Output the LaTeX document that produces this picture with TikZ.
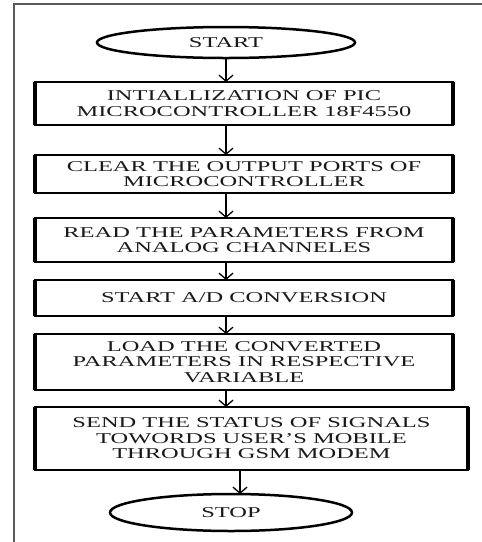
\documentclass[tikz,border=0pt]{standalone}
\usepackage{fontspec}
\newfontfamily\flowfont[FakeStretch=1.63]{Liberation Serif}
\usetikzlibrary{shapes.geometric,arrows.meta}
\begin{document}
\begin{tikzpicture}[x=1pt,y=1pt,
  every node/.style={font=\flowfont\fontsize{15}{15.5}\selectfont, text=black!90, align=center, inner sep=0pt, outer sep=0pt},
  stepbox/.style={draw, line width=2pt, rectangle, minimum width=418pt},
  term/.style={draw, line width=2.5pt, ellipse},
  vedge/.style={line width=4.5pt},
  arr/.style={line width=1.3pt, -{Straight Barb[length=6pt,width=14pt,line width=1.3pt]}},
  frame/.style={draw=black!65, line width=2pt}]
\useasboundingbox (0,0) rectangle (482,-542);
\draw[frame] (13,-4) -- (482,-4);
\draw[frame] (14,-4) -- (14,-542);

\node[term, minimum width=258pt, minimum height=31pt] (start) at (226,-42.5) {START};
\node[stepbox, minimum height=43pt] (b1) at (244,-103.5) {INTIALLIZATION OF PIC\\MICROCONTROLLER 18F4550};
\node[stepbox, minimum height=38pt] (b2) at (244,-174) {CLEAR THE OUTPUT PORTS OF\\MICROCONTROLLER};
\node[stepbox, minimum height=44pt] (b3) at (244,-240) {READ THE PARAMETERS FROM\\ANALOG CHANNELES};
\node[stepbox, minimum height=36pt] (b4) at (244,-298) {START A/D CONVERSION};
\node[stepbox, minimum height=56pt] (b5) at (244,-362) {LOAD THE CONVERTED\\PARAMETERS IN RESPECTIVE\\VARIABLE};
\node[stepbox, minimum width=433pt, minimum height=63pt] (b6) at (251.5,-438.5) {SEND THE STATUS OF SIGNALS\\TOWORDS USER’S MOBILE\\THROUGH GSM MODEM};
\node[term, minimum width=242pt, minimum height=37pt] (stop) at (231,-512.5) {STOP};

\foreach \b in {b1,b2,b3,b4,b5,b6}{
  \draw[vedge] (\b.north west) -- (\b.south west);
  \draw[vedge] (\b.north east) -- (\b.south east);
}

\draw[arr] (start.south) -- (start.south |- b1.north);
\draw[arr] (b1.south -| start) -- (b2.north -| start);
\draw[arr] (b2.south -| start) -- (b3.north -| start);
\draw[arr] (b3.south -| start) -- (b4.north -| start);
\draw[arr] (b4.south -| start) -- (b5.north -| start);
\draw[arr] (b5.south -| start) -- (b6.north -| start);
\draw[arr] ([xshift=-11.5pt]b6.south) -- ([xshift=-11.5pt]b6.south |- stop.north);
\end{tikzpicture}
\end{document}
